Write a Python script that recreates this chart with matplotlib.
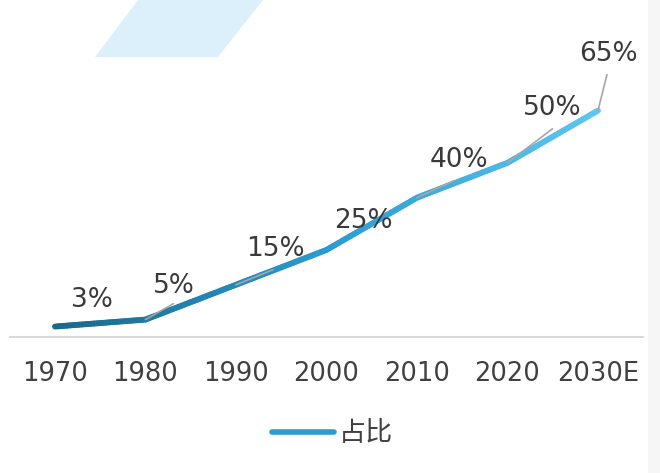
import numpy as np
import matplotlib
matplotlib.use("Agg")
import matplotlib.pyplot as plt
from matplotlib.collections import LineCollection
from matplotlib.colors import LinearSegmentedColormap
from matplotlib.patches import Polygon, Rectangle
from matplotlib.lines import Line2D

plt.rcParams['font.family'] = ['DejaVu Sans', 'Noto Sans CJK SC']

years = ['1970', '1980', '1990', '2000', '2010', '2020', '2030E']
share = [3, 5, 15, 25, 40, 50, 65]
labels = ['3%', '5%', '15%', '25%', '40%', '50%', '65%']
series_name = '占比'

W, H = 660, 473
fig = plt.figure(figsize=(W / 100, H / 100), dpi=100)
fig.patch.set_facecolor('white')

# decorative parallelogram and faint right edge
fig.add_artist(Polygon([(95 / W, 1 - 57 / H), (218 / W, 1 - 57 / H), (263 / W, 1.0), (138 / W, 1.0)],
                       closed=True, transform=fig.transFigure, facecolor='#dcf0fb', edgecolor='none', zorder=0))
fig.add_artist(Rectangle((648 / W, 0), 12 / W, 1, transform=fig.transFigure,
                         facecolor='#f6f6f6', edgecolor='none', zorder=0))

ax = fig.add_axes([10 / W, (H - 337) / H, 633 / W, 317 / H])
ax.set_facecolor('none')
x = np.arange(len(years))
ax.set_xlim(-0.497, -0.497 + 633 / 90.5)
ax.set_ylim(0, 91)

# gradient line
cmap = LinearSegmentedColormap.from_list('g', ['#1a6888', '#2a9bd0', '#5cc6ef'])
xs, ys = [], []
for i in range(len(x) - 1):
    t = np.linspace(0, 1, 30, endpoint=False)
    xs.extend(x[i] + t * (x[i + 1] - x[i]))
    ys.extend(share[i] + t * (share[i + 1] - share[i]))
xs.append(x[-1]); ys.append(share[-1])
pts = np.column_stack([xs, ys]).reshape(-1, 1, 2)
segs = np.concatenate([pts[:-1], pts[1:]], axis=1)
lc = LineCollection(segs, cmap=cmap, linewidths=4.2, capstyle='round', joinstyle='round', zorder=3)
lc.set_array(np.linspace(0, 1, len(segs)))
ax.add_collection(lc)

# data labels with leader lines
label_off = [(37, 27), (28, 34), (39, 36), (37, 29), (42, 38), (45, 55), (10, 57)]
leader_end = [None, (28, 16), (37, 15), None, (37, 17), (45, 34), (9, 36)]
for i in range(len(x)):
    if leader_end[i] is not None:
        ax.annotate('', xy=(x[i], share[i]), xytext=leader_end[i], textcoords='offset pixels',
                    arrowprops=dict(arrowstyle='-', color='#a6a6a6', lw=1.2, shrinkA=0, shrinkB=0),
                    zorder=4)
    ax.annotate(labels[i], xy=(x[i], share[i]), xytext=label_off[i], textcoords='offset pixels',
                ha='center', va='center', fontsize=19, color='#3a3a3a', zorder=5)

for s in ['top', 'right', 'left']:
    ax.spines[s].set_visible(False)
ax.spines['bottom'].set_color('#d9d9d9')
ax.spines['bottom'].set_linewidth(1.5)
ax.set_yticks([])
ax.set_xticks(x)
ax.set_xticklabels(years, fontsize=18.5, color='#404040')
ax.tick_params(axis='x', length=0, pad=17)

# legend
fig.add_artist(Line2D([272 / W, 334 / W], [1 - 432 / H, 1 - 432 / H], transform=fig.transFigure,
                      color='#2b9bd2', lw=4.0, solid_capstyle='round'))
fig.text(339 / W, 1 - 433 / H, series_name, fontsize=19.5, color='#404040', va='center', ha='left',
         family=['Noto Sans CJK SC', 'DejaVu Sans'])

fig.savefig('out.png', dpi=100)
